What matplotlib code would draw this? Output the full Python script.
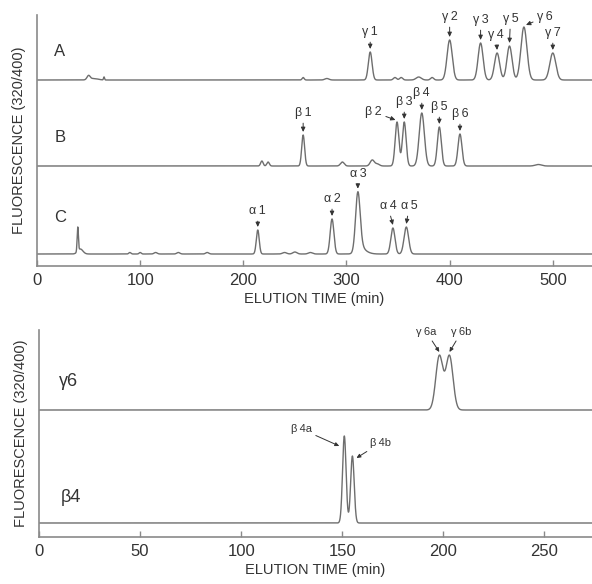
import numpy as np
import matplotlib.pyplot as plt

plt.rcParams['font.family'] = ['Liberation Sans', 'DejaVu Sans']

LINE = '#6e6e6e'
AXC = '#8a8a8a'
TXT = '#333333'

# ---- top panel: chromatograms A, B, C (time in min, height, peak sigma) ----
top_ticks = [0, 100, 200, 300, 400, 500]

A_names = ['γ\u20091', 'γ\u20092', 'γ\u20093', 'γ\u20094', 'γ\u20095', 'γ\u20096', 'γ\u20097']
A_time = [323, 400, 430, 446, 458, 472, 500]
A_height = [28, 40, 37, 27, 34, 53, 27]
A_sigma = [1.8, 2.5, 2.4, 2.5, 2.5, 2.9, 2.9]
A_minor_time = [50, 55, 65, 258, 281, 347, 353, 370, 383]
A_minor_height = [4, 1.5, 3, 2.5, 1.5, 2.5, 2.5, 3, 2.5]
A_minor_sigma = [1.5, 4, 0.5, 1, 2, 1.5, 1.5, 2.5, 1.5]

B_names = ['β\u20091', 'β\u20092', 'β\u20093', 'β\u20094', 'β\u20095', 'β\u20096']
B_time = [258, 349, 356, 373, 390, 410]
B_height = [31, 44, 44, 53, 39, 32]
B_sigma = [1.4, 1.8, 1.8, 2.5, 1.9, 1.9]
B_minor_time = [218, 224, 296, 325, 330, 486]
B_minor_height = [5, 4, 4, 6, 2, 1.5]
B_minor_sigma = [1.2, 1.2, 1.8, 2, 2, 3]

C_names = ['α\u20091', 'α\u20092', 'α\u20093', 'α\u20094', 'α\u20095']
C_time = [214, 286, 311, 345, 358]
C_height = [24, 35, 58, 26, 27]
C_sigma = [1.4, 1.8, 2.2, 2.0, 2.2]
C_minor_time = [39.5, 42, 90, 100, 115, 137, 165, 240, 250, 265, 314, 316]
C_minor_height = [24, 5, 1.5, 1.5, 1.5, 1.5, 1.5, 1.5, 2, 1.5, 4, 3]
C_minor_sigma = [0.6, 2.5, 1, 1, 1.5, 1.5, 1.5, 2, 2, 2, 3, 5]

# ---- bottom panel: γ6 and β4 re-chromatographed ----
bottom_ticks = [0, 50, 100, 150, 200, 250]
g6_names = ['γ\u20096a', 'γ\u20096b']
g6_time = [198, 203]
g6_height = [54, 54]
g6_sigma = [1.75, 1.75]
b4_names = ['β\u20094a', 'β\u20094b']
b4_time = [151, 155]
b4_height = [87, 67]
b4_sigma = [0.87, 0.87]


def trace(x, base, *peaks):
    y = np.full_like(x, base, dtype=float)
    for t, h, s in peaks:
        for ti, hi, si in zip(t, h, s):
            y += hi * np.exp(-0.5 * ((x - ti) / si) ** 2)
    return y


def label_peaks(ax, x, y, times, sigmas, names, specs=None, size=9):
    # spec: (tip dx in data, tip dy px above top, text dx px, text dy px)
    for i, (t, s, name) in enumerate(zip(times, sigmas, names)):
        tdx, tdy, dx, dy = (specs or {}).get(i, (0, 3, 0, 17))
        m = (x > t - s) & (x < t + s)
        top = y[m].max()
        ax.annotate(name, xy=(t + tdx, top + tdy), xytext=(dx, dy),
                    textcoords='offset pixels', ha='center', va='center',
                    fontsize=size, color=TXT,
                    arrowprops=dict(arrowstyle='-|>,head_length=0.3,head_width=0.14',
                                    color=TXT, lw=0.7, shrinkA=1, shrinkB=0))


def style(ax, xmax, ymax, ticks):
    ax.set_xlim(0, xmax)
    ax.set_ylim(0, ymax)
    for s in ['top', 'right']:
        ax.spines[s].set_visible(False)
    for s in ['left', 'bottom']:
        ax.spines[s].set_color(AXC)
        ax.spines[s].set_linewidth(1.2)
    ax.set_yticks([])
    ax.set_xticks(ticks)
    ax.tick_params(axis='x', direction='in', length=4, width=1, color=AXC,
                   labelsize=12, labelcolor=TXT, pad=5)
    ax.set_xlabel('ELUTION TIME (min)', fontsize=10.5, color=TXT, labelpad=3)
    ax.set_ylabel('FLUORESCENCE (320/400)', fontsize=10.5, color=TXT, labelpad=8)


fig = plt.figure(figsize=(5.92, 5.84), dpi=100)
ax1 = fig.add_axes([37 / 592, 1 - 266 / 584, 555 / 592, 251 / 584])
ax2 = fig.add_axes([39 / 592, 1 - 537 / 584, 553 / 592, 207 / 584])

# top panel
x = np.linspace(0, 540, 10801)
yA = trace(x, 186, (A_time, A_height, A_sigma), (A_minor_time, A_minor_height, A_minor_sigma))
yB = trace(x, 100, (B_time, B_height, B_sigma), (B_minor_time, B_minor_height, B_minor_sigma))
yC = trace(x, 12, (C_time, C_height, C_sigma), (C_minor_time, C_minor_height, C_minor_sigma))
for y in (yA, yB, yC):
    ax1.plot(x, y, color=LINE, lw=1.0)

label_peaks(ax1, x, yA, A_time, A_sigma, A_names,
            {1: (0, 3, 0, 20), 2: (0, 3, 0, 20), 3: (0, 3, -1, 15),
             4: (0, 3, 1, 24), 5: (2, 2, 19, 8)})
label_peaks(ax1, x, yB, B_time, B_sigma, B_names,
            {0: (0, 3, 0, 19), 1: (-1.5, 2, -22, 8)})
label_peaks(ax1, x, yC, C_time, C_sigma, C_names,
            {0: (0, 3, 0, 16), 2: (0, 3, 0, 15), 3: (0, 3, -5, 19), 4: (0, 3, 3, 18)})

for lbl, yy in zip(['A', 'B', 'C'], [214, 128, 48]):
    ax1.text(22, yy, lbl, fontsize=12, color=TXT, ha='center', va='center')
style(ax1, 538, 251, top_ticks)

# bottom panel
x2 = np.linspace(0, 275, 11001)
yG = trace(x2, 127, (g6_time, g6_height, g6_sigma))
yBb = trace(x2, 14, (b4_time, b4_height, b4_sigma))
ax2.plot(x2, yG, color=LINE, lw=1.0)
ax2.plot(x2, yBb, color=LINE, lw=1.0)
label_peaks(ax2, x2, yG, g6_time, g6_sigma, g6_names,
            {0: (0, 3, -13, 20), 1: (0, 3, 12, 20)}, size=8)
label_peaks(ax2, x2, yBb, b4_time, b4_sigma, b4_names,
            {0: (-2.5, -10, -38, 17), 1: (2, -2, 24, 15)}, size=8)
ax2.text(14.5, 155, 'γ6', fontsize=13, color=TXT, ha='center', va='center')
ax2.text(16, 40, 'β4', fontsize=13, color=TXT, ha='center', va='center')
style(ax2, 273.5, 207, bottom_ticks)

fig.savefig('out.png', dpi=100)
